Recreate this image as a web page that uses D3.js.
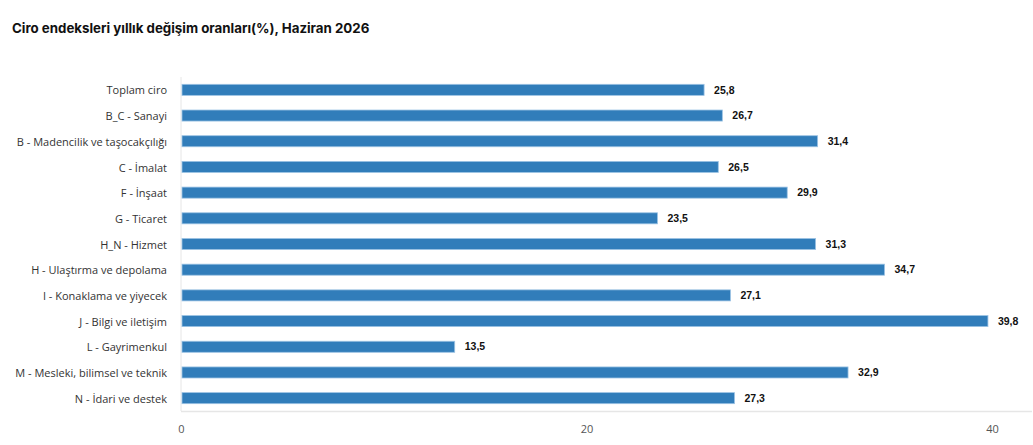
<!DOCTYPE html>
<html>
<head>
<meta charset="utf-8">
<script src="https://cdn.jsdelivr.net/npm/d3@7"></script>
<style>
  body { margin: 0; background: #fff; }
  svg { display: block; }
</style>
</head>
<body>
<div id="chart"></div>
<script>
// 데이터
const categories = [
  "Toplam ciro",
  "B_C - Sanayi",
  "B - Madencilik ve taşocakçılığı",
  "C - İmalat",
  "F - İnşaat",
  "G - Ticaret",
  "H_N - Hizmet",
  "H - Ulaştırma ve depolama",
  "I - Konaklama ve yiyecek",
  "J - Bilgi ve iletişim",
  "L - Gayrimenkul",
  "M - Mesleki, bilimsel ve teknik",
  "N - İdari ve destek"
];
const values = [25.8, 26.7, 31.4, 26.5, 29.9, 23.5, 31.3, 34.7, 27.1, 39.8, 13.5, 32.9, 27.3];
const xTicks = [0, 20, 40];
const title = "Ciro endeksleri yıllık değişim oranları(%), Haziran 2026";

const W = 1033, H = 445;
const plot = {left: 181, right: 1032, top: 77, bottom: 411};

const svg = d3.select("#chart").append("svg")
  .attr("width", W)
  .attr("height", H);

svg.append("text")
  .attr("x", 12)
  .attr("y", 33)
  .style("font-family", "Inter, 'Open Sans', sans-serif")
  .style("font-size", "13.3px")
  .style("font-weight", "bold")
  .attr("fill", "#111")
  .text(title);

const x = d3.scaleLinear().domain([0, 40]).range([plot.left, 992]);
const y = d3.scaleBand().domain(categories).range([plot.top, plot.bottom]).paddingInner(0.57).paddingOuter(0.285);

// 축 선
svg.append("line")
  .attr("x1", plot.left).attr("x2", plot.left)
  .attr("y1", plot.top).attr("y2", plot.bottom)
  .attr("stroke", "#e6e6e6");
svg.append("line")
  .attr("x1", plot.left).attr("x2", plot.right)
  .attr("y1", plot.bottom + 0.5).attr("y2", plot.bottom + 0.5)
  .attr("stroke", "#e6e6e6")
  .attr("stroke-width", 1.5);

// x축 눈금
const xAxis = svg.append("g")
  .attr("transform", `translate(0, ${plot.bottom})`)
  .call(d3.axisBottom(x).tickValues(xTicks).tickSize(0).tickPadding(14));
xAxis.select(".domain").remove();
xAxis.selectAll("text")
  .style("font-family", "'Open Sans', sans-serif")
  .style("font-size", "11px")
  .attr("fill", "#555");

// y축 라벨
const yAxis = svg.append("g")
  .attr("transform", `translate(${plot.left}, 0)`)
  .call(d3.axisLeft(y).tickSize(0).tickPadding(14));
yAxis.select(".domain").remove();
yAxis.selectAll("text")
  .attr("dy", "0.42em")
  .style("font-family", "'Open Sans', sans-serif")
  .style("font-size", "11px")
  .attr("fill", "#333");

// 막대
svg.selectAll("rect.bar")
  .data(categories)
  .join("rect")
  .attr("class", "bar")
  .attr("x", x(0) + 1)
  .attr("y", d => y(d))
  .attr("width", (d, i) => x(values[i]) - x(0) - 1)
  .attr("height", y.bandwidth())
  .attr("fill", "#317dba")
  .attr("stroke", "#9cc3e4")
  .attr("stroke-width", 0.8);

// 값 라벨
svg.selectAll("text.val")
  .data(categories)
  .join("text")
  .attr("class", "val")
  .attr("x", (d, i) => x(values[i]) + 10)
  .attr("y", d => y(d) + y.bandwidth() / 2)
  .attr("dy", "0.35em")
  .style("font-family", "'Liberation Sans', Arial, sans-serif")
  .style("font-size", "10.5px")
  .style("font-weight", "bold")
  .attr("fill", "#111")
  .text((d, i) => values[i].toFixed(1).replace(".", ","));
</script>
</body>
</html>
